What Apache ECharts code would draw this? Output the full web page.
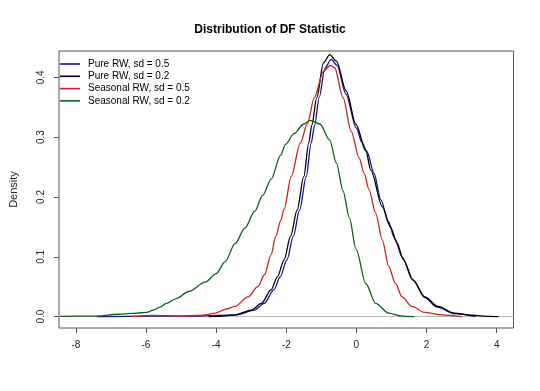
<!DOCTYPE html>
<html>
<head>
<meta charset="utf-8">
<script src="https://cdn.jsdelivr.net/npm/echarts@6/dist/echarts.min.js"></script>
<style>
html,body{margin:0;padding:0;background:#fff;}
#chart{width:540px;height:391px;}
</style>
</head>
<body>
<div id="chart"></div>
<script>
// Tick labels
const xTicks = [-8, -6, -4, -2, 0, 2, 4];
const yTicks = [0, 0.1, 0.2, 0.3, 0.4];

// Series names
const seriesNames = ["Pure RW, sd = 0.5", "Pure RW, sd = 0.2", "Seasonal RW, sd = 0.5", "Seasonal RW, sd = 0.2"];

// Pure RW, sd = 0.5 (blue)
const pureRW05X = [-7.4, -6.0, -4.5, -3.4, -2.9, -2.63, -2.35, -2.17, -1.98, -1.8, -1.62, -1.43, -1.29, -1.19, -1.06, -0.9, -0.72, -0.55, -0.3, 0.0, 0.15, 0.3, 0.5, 0.7, 0.9, 1.1, 1.3, 1.6, 1.95, 2.3, 2.8, 3.4];
const pureRW05Y = [0, 0.001, 0.001, 0.003, 0.011, 0.022, 0.045, 0.067, 0.095, 0.134, 0.178, 0.234, 0.29, 0.32, 0.366, 0.415, 0.430, 0.42, 0.372, 0.315, 0.292, 0.276, 0.24, 0.195, 0.16, 0.13, 0.10, 0.062, 0.032, 0.016, 0.005, 0];

// Pure RW, sd = 0.2 (black)
const pureRW02X = [-4.21, -3.8, -3.46, -2.99, -2.71, -2.43, -2.25, -2.06, -1.88, -1.69, -1.5, -1.36, -1.27, -1.13, -0.94, -0.76, -0.57, -0.29, -0.01, 0.27, 0.41, 0.74, 0.97, 1.16, 1.34, 1.62, 1.95, 2.33, 2.79, 3.2, 3.6, 4.05];
const pureRW02Y = [0, 0.001, 0.003, 0.011, 0.022, 0.045, 0.067, 0.095, 0.134, 0.178, 0.234, 0.29, 0.32, 0.366, 0.424, 0.438, 0.427, 0.377, 0.321, 0.277, 0.245, 0.184, 0.15, 0.123, 0.095, 0.061, 0.033, 0.017, 0.006, 0.003, 0.001, 0];

// Seasonal RW, sd = 0.5 (red)
const seasRW05X = [-6.4, -5.8, -5.0, -4.5, -4.3, -4.02, -3.74, -3.46, -3.09, -2.81, -2.62, -2.43, -2.30, -2.16, -2.06, -1.86, -1.6, -1.4, -1.2, -0.94, -0.74, -0.62, -0.38, -0.15, 0.08, 0.22, 0.36, 0.55, 0.74, 0.92, 1.11, 1.3, 1.58, 1.95, 2.42, 3.02];
const seasRW05Y = [0, 0.002, 0.001, 0.002, 0.003, 0.006, 0.012, 0.017, 0.033, 0.05, 0.070, 0.104, 0.134, 0.160, 0.180, 0.234, 0.29, 0.322, 0.366, 0.41, 0.42, 0.416, 0.366, 0.31, 0.265, 0.24, 0.212, 0.173, 0.128, 0.084, 0.056, 0.033, 0.017, 0.007, 0.003, 0];

// Seasonal RW, sd = 0.2 (green)
const seasRW02X = [-8.45, -7.4, -6.8, -6.26, -5.98, -5.79, -5.6, -5.42, -5.14, -4.78, -4.3, -4.0, -3.74, -3.46, -3.18, -2.9, -2.67, -2.43, -2.16, -2.02, -1.78, -1.5, -1.32, -1.04, -0.76, -0.57, -0.38, -0.2, -0.01, 0.27, 0.55, 0.92, 1.3, 1.65];
const seasRW02Y = [0.0005, 0.001, 0.004, 0.006, 0.007, 0.011, 0.016, 0.022, 0.030, 0.042, 0.058, 0.072, 0.092, 0.122, 0.148, 0.176, 0.203, 0.230, 0.270, 0.288, 0.306, 0.322, 0.328, 0.322, 0.295, 0.257, 0.21, 0.165, 0.113, 0.055, 0.022, 0.006, 0.001, 0.0];

const colors = ["#14149a", "#000000", "#cc1f1f", "#0d5e1a"];

function zip(xs, ys) { return xs.map((x, i) => [x, ys[i]]); }
const allData = [zip(pureRW05X, pureRW05Y), zip(pureRW02X, pureRW02Y), zip(seasRW05X, seasRW05Y), zip(seasRW02X, seasRW02Y)];

const FONT = "Liberation Sans, Arial, sans-serif";

const series = allData.map((d, i) => ({
  name: seriesNames[i],
  type: 'line',
  data: d,
  symbol: 'none',
  smooth: 0.3,
  smoothMonotone: 'x',
  lineStyle: { color: colors[i], width: 1.3 },
  itemStyle: { color: colors[i] },
  z: 3 + i
}));
series[0].markLine = {
  silent: true,
  symbol: 'none',
  label: { show: false },
  lineStyle: { color: '#bdbdbd', type: 'solid', width: 1 },
  data: [{ yAxis: 0 }],
  z: 1
};

const chart = echarts.init(document.getElementById('chart'), null, { renderer: 'canvas' });
chart.setOption({
  animation: false,
  backgroundColor: '#ffffff',
  title: {
    text: 'Distribution of DF Statistic',
    left: 'center',
    top: 19,
    textStyle: { fontFamily: FONT, fontSize: 12, fontWeight: 'bold', color: '#000' }
  },
  legend: {
    orient: 'vertical',
    left: 60,
    top: 58,
    padding: 0,
    itemGap: 0.3,
    itemWidth: 20,
    itemHeight: 1.6,
    icon: 'rect',
    data: seriesNames,
    textStyle: { fontFamily: FONT, fontSize: 10, color: '#000', lineHeight: 12, padding: [0, 0, 0, 3] }
  },
  grid: {
    left: 50.5, right: 26.5, top: 51, bottom: 63,
    show: true, borderColor: '#555', borderWidth: 1, backgroundColor: 'transparent'
  },
  xAxis: {
    type: 'value',
    min: -8.48, max: 4.48,
    axisLine: { show: false, onZero: false },
    splitLine: { show: false },
    axisTick: { show: true, inside: false, length: 5, customValues: xTicks, lineStyle: { color: '#555' } },
    axisLabel: { customValues: xTicks, margin: 12, fontFamily: FONT, fontSize: 10, color: '#222' }
  },
  yAxis: {
    type: 'value',
    min: -0.019, max: 0.444,
    name: 'Density',
    nameLocation: 'middle',
    nameGap: 40,
    nameTextStyle: { fontFamily: FONT, fontSize: 11, color: '#222' },
    axisLine: { show: false, onZero: false },
    splitLine: { show: false },
    axisTick: { show: true, inside: false, length: 5, customValues: yTicks, lineStyle: { color: '#555' } },
    axisLabel: { customValues: yTicks, rotate: 90, margin: 13, fontFamily: FONT, fontSize: 10, color: '#222',
      formatter: v => v.toFixed(1) }
  },
  series: series
});
</script>
</body>
</html>
